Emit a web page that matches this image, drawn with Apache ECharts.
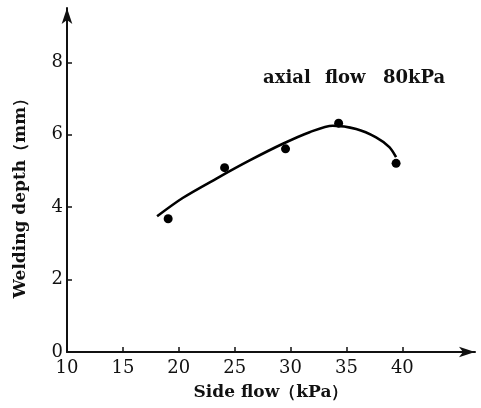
<!DOCTYPE html>
<html>
<head>
<meta charset="utf-8">
<script src="https://cdn.jsdelivr.net/npm/echarts@6/dist/echarts.min.js"></script>
<style>
  html, body { margin: 0; padding: 0; background: #fff; }
  #main { width: 481px; height: 408px; }
</style>
</head>
<body>
<div id="main"></div>
<script>
// measured points (side flow kPa, welding depth mm)
var pointX = [19.05, 24.1, 29.55, 34.3, 39.44];
var pointY = [3.68, 5.09, 5.61, 6.32, 5.21];

// fitted curve sampled along the figure's line
var curveX = [18.06, 20.38, 23.37, 26.34, 29.31, 31.70, 33.78, 35.87, 37.65, 38.84, 39.44];
var curveY = [3.75, 4.26, 4.79, 5.29, 5.75, 6.07, 6.25, 6.16, 5.93, 5.66, 5.38];

var xTicks = [10, 15, 20, 25, 30, 35, 40];
var yTicks = [0, 2, 4, 6, 8];

// annotation words, spaced like the figure
var noteWords = ['axial', 'flow', '80kPa'];

var font = 'DejaVu Serif';

var myChart = echarts.init(document.getElementById('main'));

var noteLeft = [263, 325, 383];

var option = {
    animation: false,
    backgroundColor: '#fff',
    grid: { left: 67, right: 6, top: 8, bottom: 56 },
    xAxis: {
        type: 'value',
        min: 10,
        max: 46.5,
        interval: 5,
        name: 'Side flow（kPa）',
        nameLocation: 'middle',
        nameGap: 32,
        nameTextStyle: { fontFamily: font, fontWeight: 'bold', fontSize: 17, color: '#111' },
        axisLine: { lineStyle: { color: '#111', width: 2 }, symbol: ['none', 'arrow'], symbolSize: [8, 16] },
        axisTick: { inside: true, length: 5, lineStyle: { color: '#111', width: 1.5 }, customValues: xTicks.slice(1) },
        axisLabel: { fontFamily: font, fontSize: 18, color: '#111', margin: 7, customValues: xTicks },
        splitLine: { show: false }
    },
    yAxis: {
        type: 'value',
        min: 0,
        max: 9.5,
        interval: 2,
        name: 'Welding depth（mm）',
        nameLocation: 'middle',
        nameGap: 38,
        nameTextStyle: { fontFamily: font, fontWeight: 'bold', fontSize: 17, color: '#111', padding: [0, 28, 0, 0] },
        axisLine: { lineStyle: { color: '#111', width: 2 }, symbol: ['none', 'arrow'], symbolSize: [8, 16] },
        axisTick: { inside: true, length: 5, lineStyle: { color: '#111', width: 1.5 }, customValues: yTicks.slice(1) },
        axisLabel: { fontFamily: font, fontSize: 18, color: '#111', margin: 4, customValues: yTicks },
        splitLine: { show: false }
    },
    graphic: noteWords.map(function (w, i) {
        return {
            type: 'text',
            left: noteLeft[i],
            top: 69,
            style: { text: w, fontFamily: font, fontWeight: 'bold', fontSize: 18, fill: '#111' }
        };
    }),
    series: [{
        type: 'line',
        smooth: 0.3,
        showSymbol: false,
        lineStyle: { color: '#000', width: 2.6 },
        data: curveX.map(function (x, i) { return [x, curveY[i]]; })
    }, {
        type: 'scatter',
        symbolSize: 9,
        itemStyle: { color: '#000', opacity: 1 },
        data: pointX.map(function (x, i) { return [x, pointY[i]]; })
    }]
};

myChart.setOption(option);
</script>
</body>
</html>
